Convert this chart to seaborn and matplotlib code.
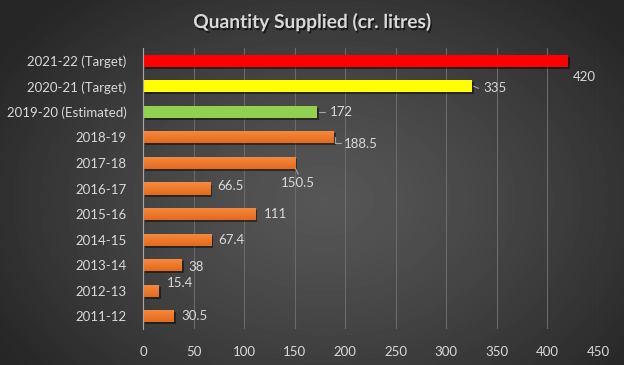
import numpy as np
import pandas as pd
import matplotlib
matplotlib.use("Agg")
import matplotlib.pyplot as plt
import matplotlib.patheffects as pe
from matplotlib.colors import LinearSegmentedColormap
import seaborn as sns

# data, top bar first
years = ["2021-22 (Target)", "2020-21 (Target)", "2019-20 (Estimated)",
         "2018-19", "2017-18", "2016-17", "2015-16", "2014-15",
         "2013-14", "2012-13", "2011-12"]
quantity = [420, 325, 172, 188.5, 150.5, 66.5, 111, 67.4, 38, 15.4, 30.5]
value_labels = ["420", "335", "172", "188.5", "150.5", "66.5", "111",
                "67.4", "38", "15.4", "30.5"]
bar_colors = ["#FF0000", "#FFFF00", "#92D050"] + ["#EE7A2C"] * 8
x_ticks = [0, 50, 100, 150, 200, 250, 300, 350, 400, 450]

# label offsets from bar end (pixels, y up) and leader line style
label_offsets = [(17, -16), (23, -2), (24, 0), (27, -7), (3, -20), (20, 3),
                 (20, 0), (20, 0), (15, -2), (21, 8), (21, 0)]
leaders = [None, "h", "h", "L", "d", None, None, None, None, None, None]

text_col = "#D9D9D9"

sns.set_theme(style="dark")
plt.rcParams["font.family"] = ["Lato", "DejaVu Sans"]

fig = plt.figure(figsize=(6.24, 3.65), dpi=100)

# radial grey background
bg = fig.add_axes([0, 0, 1, 1], zorder=-5)
xx, yy = np.meshgrid(np.linspace(0, 1, 624), np.linspace(0, 1, 365))
r = np.sqrt(((xx - 0.52) / 0.62) ** 2 + ((yy - 0.55) / 0.75) ** 2)
shade = 0x56 - (0x56 - 0x26) * np.clip(r, 0, 1) ** 1.3
bg.imshow(shade, cmap="gray", vmin=0, vmax=255, aspect="auto",
          extent=[0, 1, 0, 1], origin="upper")
bg.axis("off")

ax = fig.add_axes([143 / 624, 1 - 329 / 365, 455 / 624, 281 / 365])
ax.set_facecolor("none")

df = pd.DataFrame({"year": years, "qty": quantity})
sns.barplot(data=df, x="qty", y="year", hue="year", palette=bar_colors,
            orient="h", width=0.47, legend=False, ax=ax, saturation=1,
            linewidth=0)

ax.set_xlim(0, 450)
ax.set_ylim(10.5, -0.5)

# shadow on every bar, soft vertical gradient on the orange ones
orange_map = LinearSegmentedColormap.from_list("org", ["#F68B40", "#E56A1C"])
for i, p in enumerate(ax.patches):
    p.set_edgecolor("none")
    p.set_path_effects([pe.SimplePatchShadow(offset=(1.5, -1.5),
                                             shadow_rgbFace="black", alpha=0.45),
                        pe.Normal()])
    if i >= 3:
        x0, y0 = p.get_x(), p.get_y()
        w, h = p.get_width(), p.get_height()
        im = ax.imshow(np.linspace(0, 1, 32).reshape(-1, 1), cmap=orange_map,
                       aspect="auto", extent=[x0, x0 + w, y0 + h, y0],
                       origin="upper", zorder=p.get_zorder() + 0.1)
        im.set_clip_path(p)
ax.set_xlim(0, 450)
ax.set_ylim(10.5, -0.5)

ax.set_xticks(x_ticks)
ax.grid(axis="x", color="#6A6A6A", linewidth=0.8)
ax.grid(axis="y", visible=False)
ax.set_axisbelow(True)
for s in ["top", "right", "bottom"]:
    ax.spines[s].set_visible(False)
ax.spines["left"].set_color("#A6A6A6")
ax.spines["left"].set_linewidth(0.8)
ax.tick_params(axis="both", length=0, colors=text_col, labelsize=9.5)
ax.tick_params(axis="y", pad=12)
ax.tick_params(axis="x", pad=12)
ax.set_xlabel("")
ax.set_ylabel("")

px = 72 / 100  # points per pixel
for i, (v, lab) in enumerate(zip(quantity, value_labels)):
    dx, dy = label_offsets[i]
    ax.annotate(lab, xy=(v, i), xytext=(dx * px, dy * px),
                textcoords="offset points", ha="center", va="center",
                color=text_col, fontsize=9.5)
    kind = leaders[i]
    if kind is None:
        continue
    if kind == "h":
        seg = [(2, 0), (dx - 16, dy)]
    elif kind == "L":
        seg = [(1, 0), (1, -6), (dx - 20, -6)]
    else:
        seg = [(0, -5), (3, -11)]
    pts = [ax.transData.transform((v, i)) + np.array(s) for s in seg]
    pts = fig.transFigure.inverted().transform(np.array(pts))
    fig.add_artist(plt.Line2D(pts[:, 0], pts[:, 1], color="#A6A6A6",
                              linewidth=0.8, transform=fig.transFigure))

fig.text(0.5, 1 - 22 / 365, "Quantity Supplied (cr. litres)", ha="center",
         va="center", color=text_col, fontsize=13.8, fontweight="bold",
         path_effects=[pe.withSimplePatchShadow(offset=(1, -1.5),
                                                shadow_rgbFace="black",
                                                alpha=0.6)])

fig.savefig("out.png", dpi=100)
